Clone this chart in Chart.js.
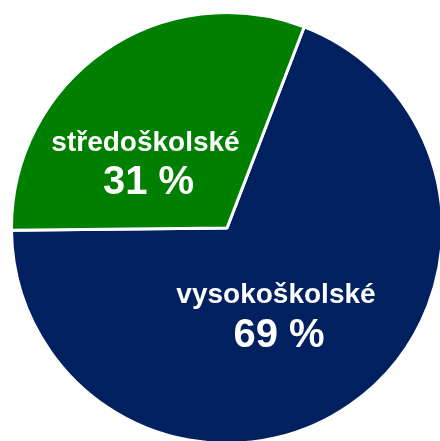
<!DOCTYPE html>
<html>
<head>
<meta charset="utf-8">
<script src="https://cdn.jsdelivr.net/npm/chart.js@4"></script>
<style>
  html, body { margin: 0; padding: 0; width: 440px; height: 441px; overflow: hidden; background: #ffffff; }
  #wrap { position: absolute; left: 10px; top: 11px; width: 434px; height: 434px; }
</style>
</head>
<body>
<div id="wrap"><canvas id="c"></canvas></div>
<script>
const categories = ["vysokoškolské", "středoškolské"];
const values = [69, 31];
const colors = ["#002060", "#007f00"];

const sliceLabels = {
  id: 'sliceLabels',
  afterDatasetsDraw(chart, args, opts) {
    const ctx = chart.ctx;
    const meta = chart.getDatasetMeta(0);
    meta.data.forEach((arc, i) => {
      const p = arc.tooltipPosition();
      const o = opts.offsets[i];
      ctx.save();
      ctx.fillStyle = '#ffffff';
      ctx.textAlign = 'center';
      ctx.textBaseline = 'alphabetic';
      ctx.font = 'bold 28px "Liberation Sans", Arial, sans-serif';
      ctx.fillText(chart.data.labels[i], p.x + o.nx, p.y + o.ny);
      ctx.font = 'bold 40px "Liberation Sans", Arial, sans-serif';
      ctx.fillText(chart.data.datasets[0].data[i] + ' %', p.x + o.vx, p.y + o.vy);
      ctx.restore();
    });
  }
};

new Chart(document.getElementById('c'), {
  type: 'pie',
  data: {
    labels: categories,
    datasets: [{
      data: values,
      backgroundColor: colors,
      borderColor: '#ffffff',
      borderWidth: 3
    }]
  },
  options: {
    responsive: true,
    maintainAspectRatio: false,
    animation: false,
    rotation: 21,
    layout: { padding: 0 },
    plugins: {
      legend: { display: false },
      tooltip: { enabled: false },
      sliceLabels: {
        offsets: [
          { nx: -12.5, ny: -13, vx: -9.5, vy: 31 },
          { nx: -20, ny: 11, vx: -17, vy: 54 }
        ]
      }
    }
  },
  plugins: [sliceLabels]
});
</script>
</body>
</html>
